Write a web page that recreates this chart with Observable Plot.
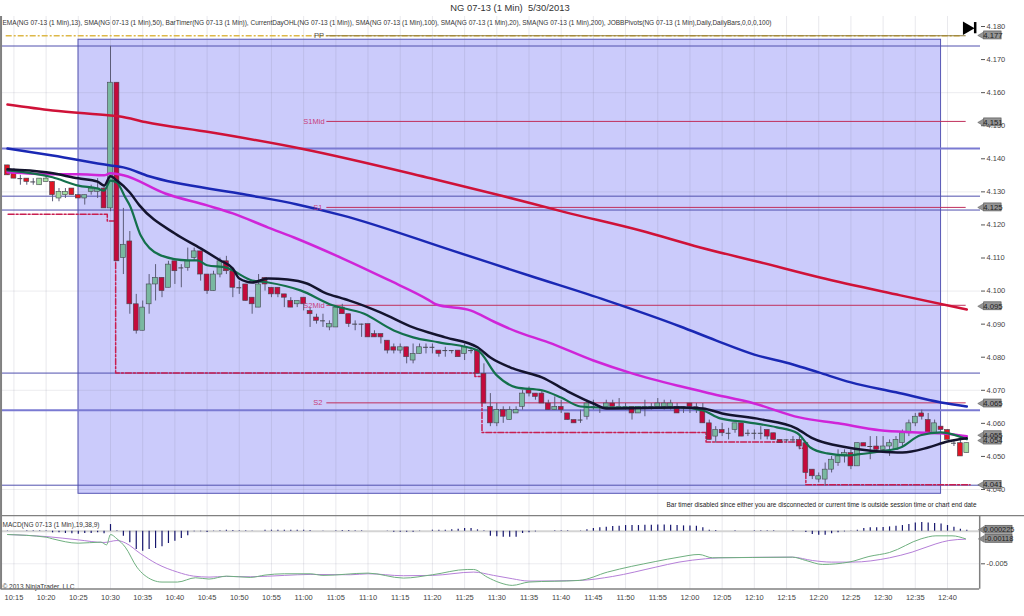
<!DOCTYPE html>
<html><head><meta charset="utf-8">
<script src="https://cdn.jsdelivr.net/npm/d3@7"></script>
<script src="https://cdn.jsdelivr.net/npm/@observablehq/plot@0.6"></script>
<style>
html,body{margin:0;padding:0;background:#fff;width:1024px;height:616px;overflow:hidden;font-family:"Liberation Sans",Arial,sans-serif}
#title{position:absolute;left:0;top:0;width:1020px;height:16px;text-align:center;font-size:9.4px;line-height:15px;color:#333;white-space:pre}
#main{position:absolute;left:0;top:16px}
#macd{position:absolute;left:0;top:515px}
svg{display:block}
</style></head><body>
<div id="title">NG 07-13 (1 Min)  5/30/2013</div>
<div id="main"></div><div id="macd"></div>
<script>
// minutes relative to 10:30
const open=[4.138,4.136,4.134,4.134,4.133,4.132,4.133,4.133,4.128,4.129,4.131,4.129,4.128,4.130,4.130,4.131,4.125,4.163,4.110,4.115,4.096,4.088,4.096,4.102,4.104,4.101,4.109,4.107,4.107,4.110,4.112,4.105,4.100,4.105,4.109,4.106,4.101,4.102,4.098,4.095,4.104,4.101,4.101,4.099,4.097,4.096,4.098,4.094,4.092,4.091,4.089,4.089,4.095,4.093,4.090,4.090,4.090,4.087,4.087,4.085,4.083,4.082,4.083,4.079,4.081,4.083,4.083,4.082,4.082,4.082,4.082,4.081,4.082,4.082,4.075,4.065,4.060,4.064,4.061,4.063,4.065,4.070,4.069,4.069,4.066,4.064,4.065,4.063,4.061,4.061,4.062,4.065,4.065,4.065,4.066,4.065,4.065,4.065,4.063,4.065,4.065,4.065,4.065,4.065,4.065,4.065,4.066,4.065,4.064,4.060,4.056,4.058,4.057,4.058,4.060,4.057,4.057,4.057,4.058,4.057,4.055,4.055,4.055,4.055,4.054,4.046,4.043,4.043,4.046,4.048,4.050,4.051,4.047,4.054,4.053,4.053,4.052,4.053,4.052,4.054,4.057,4.060,4.063,4.061,4.057,4.059,4.058,4.054,4.054,4.051];
const high=[4.138,4.137,4.135,4.134,4.134,4.134,4.135,4.133,4.131,4.131,4.131,4.129,4.129,4.132,4.134,4.132,4.174,4.163,4.125,4.118,4.099,4.097,4.105,4.108,4.104,4.109,4.109,4.108,4.113,4.113,4.112,4.105,4.106,4.110,4.1105,4.106,4.103,4.102,4.098,4.105,4.104,4.101,4.101,4.099,4.098,4.097,4.098,4.095,4.093,4.093,4.091,4.095,4.096,4.093,4.091,4.090,4.090,4.088,4.087,4.085,4.084,4.084,4.083,4.084,4.084,4.084,4.084,4.082,4.083,4.082,4.082,4.084,4.083,4.082,4.078,4.069,4.066,4.065,4.065,4.065,4.070,4.071,4.069,4.070,4.067,4.068,4.067,4.063,4.061,4.064,4.067,4.067,4.065,4.067,4.067,4.0675,4.066,4.065,4.065,4.067,4.066,4.0675,4.067,4.067,4.066,4.065,4.066,4.066,4.066,4.061,4.059,4.060,4.0585,4.060,4.060,4.058,4.058,4.059,4.058,4.057,4.055,4.055,4.056,4.056,4.054,4.046,4.045,4.048,4.050,4.052,4.052,4.052,4.054,4.054,4.056,4.056,4.056,4.055,4.056,4.058,4.061,4.063,4.064,4.063,4.061,4.059,4.058,4.055,4.055,4.054];
const low=[4.135,4.134,4.132,4.132,4.132,4.132,4.133,4.127,4.127,4.128,4.129,4.128,4.126,4.129,4.128,4.125,4.124,4.109,4.105,4.093,4.087,4.088,4.093,4.097,4.098,4.101,4.102,4.101,4.106,4.109,4.103,4.099,4.100,4.104,4.105,4.098,4.099,4.097,4.093,4.095,4.100,4.098,4.098,4.095,4.095,4.095,4.094,4.089,4.090,4.089,4.088,4.089,4.093,4.089,4.088,4.086,4.086,4.086,4.084,4.081,4.081,4.081,4.078,4.078,4.081,4.081,4.081,4.080,4.080,4.081,4.080,4.079,4.081,4.075,4.066,4.059,4.059,4.060,4.061,4.063,4.064,4.068,4.067,4.066,4.064,4.064,4.063,4.061,4.060,4.060,4.061,4.064,4.063,4.065,4.065,4.065,4.064,4.061,4.063,4.062,4.064,4.065,4.064,4.064,4.063,4.063,4.063,4.063,4.060,4.055,4.054,4.056,4.055,4.057,4.056,4.056,4.055,4.055,4.055,4.055,4.054,4.054,4.054,4.052,4.045,4.043,4.042,4.041,4.045,4.047,4.048,4.046,4.047,4.053,4.049,4.051,4.051,4.050,4.052,4.053,4.056,4.059,4.061,4.057,4.057,4.058,4.055,4.053,4.050,4.051];
const close=[4.135,4.134,4.134,4.133,4.133,4.134,4.134,4.129,4.130,4.130,4.129,4.128,4.129,4.131,4.131,4.125,4.163,4.109,4.114,4.096,4.088,4.095,4.102,4.104,4.100,4.108,4.106,4.107,4.109,4.112,4.105,4.100,4.105,4.109,4.106,4.101,4.101,4.097,4.096,4.102,4.102,4.099,4.099,4.098,4.095,4.097,4.096,4.093,4.091,4.091,4.090,4.095,4.093,4.090,4.090,4.090,4.086,4.086,4.086,4.082,4.082,4.083,4.080,4.081,4.083,4.083,4.083,4.081,4.082,4.082,4.080,4.083,4.082,4.075,4.066,4.060,4.064,4.062,4.064,4.064,4.069,4.069,4.068,4.066,4.064,4.065,4.064,4.061,4.060,4.061,4.066,4.065,4.065,4.066,4.065,4.065,4.065,4.063,4.065,4.065,4.065,4.066,4.066,4.066,4.063,4.065,4.065,4.065,4.060,4.055,4.058,4.057,4.057,4.060,4.056,4.057,4.057,4.057,4.056,4.055,4.054,4.055,4.055,4.053,4.045,4.044,4.044,4.046,4.049,4.050,4.051,4.047,4.054,4.053,4.053,4.052,4.053,4.054,4.055,4.057,4.060,4.062,4.062,4.057,4.060,4.058,4.055,4.054,4.050,4.054];
const barMinute=d3.range(-16,134);

const sma200Min=[-16,-9,0,1.5,5.4,15.5,29.5,49.7,60.6,70.7,82.3,91.6,100.9,110.2,122.7,133];
const sma200=[4.1564,4.1546,4.1531,4.1528,4.1511,4.1480,4.1431,4.1341,4.1289,4.1238,4.1183,4.1132,4.1087,4.1041,4.0987,4.0944];
const sma100Min=[-16,-9,0,2,6,20,29,36,53,65,77,88.5,94,100,106,110,115,122,129,133];
const sma100=[4.1431,4.1410,4.1380,4.1374,4.1347,4.1295,4.1262,4.1229,4.1123,4.1047,4.0972,4.0893,4.0851,4.0808,4.0778,4.0754,4.0724,4.0694,4.0663,4.0651];
const sma50Min=[-16,-9,-5,-1,0,2,8.5,15,19,24.5,28.5,36,43,49.5,50.5,56,59.5,63,68,75,81,88.5,93,100,107,113,119.5,124.5,129,133];
const sma50=[4.1359,4.1353,4.1353,4.1350,4.1356,4.1350,4.1295,4.1259,4.1235,4.1192,4.1162,4.1099,4.1035,4.0972,4.0960,4.0941,4.0908,4.0878,4.0845,4.0790,4.0751,4.0712,4.0691,4.0660,4.0618,4.0600,4.0579,4.0573,4.0570,4.0561];
const sma20Min=[-16,-10,-5,-2,-1,0,1,3,4.5,10,14,17,19,20,22,24.5,27.5,30.5,33.5,36,37,42,47,52,57,59,62.5,67,71,75,77,88.5,92,95,101,106.5,109,114.5,119.5,123,127,130,133];
const sma20=[4.1368,4.1359,4.1341,4.1331,4.1319,4.1347,4.1334,4.1298,4.1259,4.1174,4.1129,4.1093,4.1068,4.1038,4.1026,4.1038,4.1035,4.1023,4.0993,4.0978,4.0972,4.0935,4.0890,4.0860,4.0830,4.0799,4.0766,4.0739,4.0697,4.0660,4.0645,4.0648,4.0645,4.0630,4.0612,4.0585,4.0555,4.0527,4.0515,4.0512,4.0527,4.0545,4.0555];
const ema13Min=[-16,-9,-5,-2,-1,0,1,2.3,3,4.7,7.8,12,13.5,15,18,19,22,24.5,29.5,34.5,39.3,44,47,51,57,60,63,67,70,73,76,88.5,92,94.7,99,103.5,106.7,108.7,111.3,114.5,116,119.5,122.7,125.8,129,133];
const ema13=[4.1365,4.1344,4.1319,4.1310,4.1304,4.1334,4.1328,4.1283,4.1259,4.1168,4.1108,4.1093,4.1093,4.1078,4.1071,4.1062,4.1032,4.1026,4.1002,4.0957,4.0932,4.0881,4.0860,4.0845,4.0821,4.0745,4.0709,4.0700,4.0678,4.0651,4.0648,4.0648,4.0639,4.0615,4.0603,4.0588,4.0570,4.0527,4.0509,4.0503,4.0506,4.0515,4.0527,4.0564,4.0573,4.0552];
const dayLowMin=[-15.9,-0.5,0.8,56.6,57.7,92.5,107,108,133.5];
const dayLow=[4.1232,4.1212,4.0752,4.0742,4.0572,4.0544,4.0525,4.0414,4.0414];

const pivotNames=["S1Mid","S1","S2Mid","S2"];
const pivotValues=[4.1513,4.1253,4.0957,4.0662];
const pivotLabelMin=[31.6,32.2,31.6,32.2];
const ppValue=4.1772;
const blueThin=[4.1741,4.1287,4.1245,4.0752,4.0413];
const blueThick=[4.1431,4.0640];
const shadeMin=[-4.97,129];
const shadePrice=[4.176,4.0387];
const priceTicks=[4.18,4.17,4.16,4.15,4.14,4.13,4.12,4.11,4.10,4.09,4.08,4.07,4.06,4.05,4.04];
const faintPrice=[4.16,4.13,4.10,4.07,4.04];
const timeTicks=d3.range(-15,131,5);
const timeLabels=["10:15","10:20","10:25","10:30","10:35","10:40","10:45","10:50","10:55","11:00","11:05","11:10","11:15","11:20","11:25","11:30","11:35","11:40","11:45","11:50","11:55","12:00","12:05","12:10","12:15","12:20","12:25","12:30","12:35","12:40"];
const tagLabels=["4.177","4.151","4.125","4.095","4.065","4.055","4.054","4.041"];
const tagPrice=[4.1773,4.1510,4.1253,4.0954,4.0660,4.0564,4.0548,4.0414];

const macdHist=[1,0,0,1,1,1,1,-5,-5,-7,-8,-9,-7,-7,-5,-8,20,1,-15,-35,-55,-60,-55,-52,-47,-37,-30,-22,-14,-2,-2,-4,-1,1,3,2,1,1,-1,0,3,3,3,3,3,3,3,2,0,-1,0,1,2,2,1,1,0,0,0,-1,-3,-3,-3,-3,-1,0,3,3,3,4,6,8,8,4,1,-15,-17,-18,-18,-18,-7,-5,-2,0,0,1,1,1,0,1,4,8,10,12,14,15,17,17,17,18,18,19,19,18,17,16,16,15,10,3,2,0,0,1,0,0,1,1,1,1,0,0,1,0,-4,-10,-12,-12,-8,-5,-2,-1,3,8,10,10,11,13,15,17,20,25,26,25,23,22,17,12,6,3].map(v=>v*0.000051);
const macdMin=[-16,-10,-9,-5,-1.5,-0.6,0,1,2.3,4.1,5.2,8,10.4,13.2,15.3,18,21.7,24,27,31,33,40,45.5,50,55.4,56.4,58.5,60.5,62.4,65,72.8,77.2,84.7,88.3,91.4,93.5,105.9,108,110.6,114.7,117.8,121,125.9,128.2,130.7,132.8];
const macdLine=[-.00051,-.00092,-.00117,-.00184,-.00168,-.00209,-.00051,-.00117,-.00245,-.00551,-.00668,-.0078,-.0078,-.00714,-.00734,-.00689,-.00709,-.00673,-.00653,-.00653,-.00678,-.00643,-.00719,-.00668,-.00587,-.00587,-.00704,-.00791,-.00831,-.0078,-.00755,-.00627,-.00464,-.00398,-.00357,-.00408,-.00398,-.00449,-.0051,-.00474,-.00388,-.00326,-.00117,-.00071,-.00071,-.00117];
const signalMin=[-16,-10,-5,-1,1,2.3,4.7,7.2,10.4,12.9,15.3,18,21.7,27,31,37.3,40,45.5,50,56.4,59.5,62.4,65,72.8,78,84.7,88.3,92.4,94.5,105.9,109,112,115.2,121,124.5,128.2,130.2,132.8];
const signalLine=[-.00051,-.00082,-.00133,-.00173,-.00143,-.00179,-.00347,-.005,-.00627,-.00689,-.00704,-.00694,-.00699,-.00678,-.00663,-.00668,-.00653,-.00683,-.00678,-.00627,-.00678,-.00729,-.00765,-.00755,-.00694,-.00551,-.00474,-.00423,-.00408,-.00398,-.00449,-.00474,-.00474,-.00408,-.00321,-.00194,-.00143,-.00122];
const macdTagLabels=["0.000225","-0.00118"];
const macdTagValues=[0.000225,-0.00118];

const zip=(xs,ys)=>xs.map((t,i)=>({t,v:ys[i]}));
const bars=barMinute.map((t,i)=>({t,o:open[i],h:high[i],l:low[i],c:close[i]}));
const inside=t=>t>=shadeMin[0]&&t<=shadeMin[1];
const bodyFill=d=>d.c>=d.o?(inside(d.t)?"#79b8a0":"#a3dda0"):(inside(d.t)?"#c40a3c":"#e01424");
const font="Liberation Sans";
const xScale={domain:[0,130],range:[110,947],axis:null};
const legendText="EMA(NG 07-13 (1 Min),13), SMA(NG 07-13 (1 Min),50), BarTimer(NG 07-13 (1 Min)), CurrentDayOHL(NG 07-13 (1 Min)), SMA(NG 07-13 (1 Min),100), SMA(NG 07-13 (1 Min),20), SMA(NG 07-13 (1 Min),200), JOBBPivots(NG 07-13 (1 Min),Daily,DailyBars,0,0,0,100)";
const timerText="Bar timer disabled since either you are disconnected or current time is outside session time or chart end date";
const maLine=(xs,ys,stroke,w)=>Plot.line(zip(xs,ys),{x:"t",y:"v",stroke:()=>stroke,strokeWidth:w,curve:"monotone-x"});

const main=Plot.plot({
  width:1024,height:499,marginTop:0,marginBottom:0,marginLeft:0,marginRight:44,
  style:{background:"transparent",fontFamily:font,fontSize:"8px",color:"#333"},
  x:xScale,
  y:{domain:[4.18,4.04],range:[10,473],axis:null},
  marks:[
    Plot.rect([0],{x1:()=>shadeMin[0],x2:()=>shadeMin[1],y1:()=>shadePrice[0],y2:()=>shadePrice[1],fill:"#cbcbfb",stroke:"#5555b5",strokeWidth:1}),
    Plot.ruleX(timeTicks,{x:d=>d,stroke:"#787890",strokeOpacity:.16,strokeWidth:1}),
    Plot.ruleY(faintPrice,{y:d=>d,stroke:"#787890",strokeOpacity:.14,strokeWidth:1}),
    Plot.ruleY(blueThick,{y:d=>d,stroke:"#7a7ad2",strokeWidth:2}),
    Plot.ruleY(blueThin,{y:d=>d,stroke:"#5050ae",strokeWidth:1}),
    Plot.ruleY(pivotValues,{y:d=>d,x1:()=>33.6,x2:()=>132.9,stroke:"#c0305c",strokeWidth:1}),
    Plot.ruleY([ppValue],{y:d=>d,x1:()=>-16.2,x2:()=>132,stroke:"#ddb848",strokeWidth:1.6,strokeDasharray:"6 2 2 2"}),
    Plot.ruleY([ppValue],{y:d=>d,x1:()=>33.6,x2:()=>132.9,stroke:"#8c7a3c",strokeWidth:1}),
    Plot.line(zip(dayLowMin,dayLow),{x:"t",y:"v",curve:"step-after",stroke:"#c81e50",strokeWidth:1.5,strokeDasharray:"6 2 2 2"}),
    Plot.ruleX(bars,{x:"t",y1:"l",y2:"h",stroke:"#5c5c78",strokeWidth:1}),
    Plot.rect(bars,{x1:d=>d.t-.38,x2:d=>d.t+.38,y1:"o",y2:"c",fill:bodyFill,stroke:"#45454f",strokeWidth:.6}),
    Plot.ruleY(bars.filter(d=>d.o===d.c),{y:"c",x1:d=>d.t-.38,x2:d=>d.t+.38,stroke:"#45454f",strokeWidth:1}),
    maLine(sma200Min,sma200,"#cf1238",2.5),
    maLine(sma100Min,sma100,"#1a28b4",2.5),
    maLine(sma50Min,sma50,"#cf25d8",2.5),
    maLine(ema13Min,ema13,"#14704c",2.2),
    maLine(sma20Min,sma20,"#14142e",2.5),
    Plot.text(pivotNames,{x:pivotLabelMin,y:pivotValues,text:d=>d,fill:"#c8407c",fontSize:7.5}),
    Plot.text(["PP"],{x:[32.4],y:[ppValue],text:d=>d,fill:"#555",fontSize:7.5}),
    Plot.text([legendText],{frameAnchor:"top-left",dx:2,dy:3,text:d=>d,fontSize:7.4,fill:"#333",className:"legendline"}),
    Plot.text([timerText],{frameAnchor:"bottom-right",dx:-4,dy:-9,text:d=>d,fontSize:7,fill:"#222",textAnchor:"end",className:"timerline"}),
    Plot.axisY(priceTicks,{anchor:"right",tickSize:4,tickPadding:2,tickFormat:d=>d.toFixed(3),label:null,fontSize:7.5,stroke:"#555",fill:"#444"}),
    Plot.rect(tagPrice,{x1:()=>135.7,x2:()=>138.4,y1:d=>d+.0012,y2:d=>d-.0012,fill:"#969696",stroke:"#555",strokeWidth:.7}),
    Plot.dot(tagPrice,{x:()=>135.3,y:d=>d,symbol:"triangle",rotate:-90,r:2.5,fill:"#969696",stroke:"#555",strokeWidth:.5}),
    Plot.text(tagLabels,{x:()=>137.05,y:(d,i)=>tagPrice[i],text:d=>d,fontSize:7.8,fill:"#222"}),
    Plot.dot([0],{x:()=>133,y:()=>4.1795,symbol:"triangle",rotate:90,r:5,fill:"#000"}),
    Plot.ruleX([134.3],{x:d=>d,y1:()=>4.1812,y2:()=>4.1778,stroke:"#000",strokeWidth:2.5}),
    Plot.ruleX([-17],{x:d=>d,stroke:"#808080",strokeWidth:2}),
    Plot.ruleY([4.1836],{y:d=>d,x1:()=>-17,x2:()=>142,stroke:"#808080",strokeWidth:1.5})
  ]
});
document.getElementById("main").append(main);
// The reference's text is squeezed horizontally: fit these lines to the widths it shows
d3.select(main).selectAll(".legendline text").attr("textLength",769).attr("lengthAdjust","spacingAndGlyphs");
d3.select(main).selectAll(".timerline text").attr("textLength",310).attr("lengthAdjust","spacingAndGlyphs");

const macd=Plot.plot({
  width:1024,height:101,marginTop:0,marginBottom:27,marginLeft:0,marginRight:44,
  style:{background:"transparent",fontFamily:font,fontSize:"8px",color:"#333"},
  x:xScale,
  y:{domain:[0,-0.005],range:[15.7,48.3],axis:null},
  marks:[
    Plot.ruleX(timeTicks,{x:d=>d,stroke:"#787890",strokeOpacity:.16,strokeWidth:1}),
    Plot.ruleY([0],{y:d=>d,x1:()=>-17,x2:()=>135,stroke:"#d4d4d4",strokeWidth:2}),
    Plot.ruleY([-0.005],{y:d=>d,x1:()=>-17,x2:()=>135,stroke:"#787890",strokeOpacity:.14}),
    Plot.ruleX(zip(barMinute,macdHist),{x:"t",y1:()=>0,y2:"v",stroke:"#16166e",strokeWidth:1.2}),
    Plot.line(zip(signalMin,signalLine),{x:"t",y:"v",stroke:"#b57fd8",strokeWidth:1,curve:"monotone-x"}),
    Plot.line(zip(macdMin,macdLine),{x:"t",y:"v",stroke:"#6fb07f",strokeWidth:1,curve:"monotone-x"}),
    Plot.text(["MACD(NG 07-13 (1 Min),19,38,9)"],{frameAnchor:"top-left",dx:2,dy:6,text:d=>d,fontSize:7.6,fill:"#333",className:"macdline"}),
    Plot.text(["© 2013 NinjaTrader, LLC"],{frameAnchor:"bottom-left",dx:2,dy:-1,text:d=>d,fontSize:7.2,fill:"#333",className:"copyline"}),
    Plot.axisY([-0.005],{anchor:"right",tickSize:4,tickPadding:2,tickFormat:d=>d.toFixed(3),label:null,fontSize:7.5,stroke:"#555",fill:"#444"}),
    Plot.axisX(timeTicks,{anchor:"bottom",tickSize:0,tickPadding:5,tickFormat:d=>timeLabels[timeTicks.indexOf(d)],label:null,fontSize:7.5,fill:"#444"}),
    Plot.rect(macdTagValues,{x1:()=>135.9,x2:()=>140.1,y1:d=>d+.0006,y2:d=>d-.0006,fill:"#8e8e8e",stroke:"#555",strokeWidth:.7}),
    Plot.dot(macdTagValues,{x:()=>135.4,y:d=>d,symbol:"triangle",rotate:-90,r:2.5,fill:"#8e8e8e",stroke:"#555",strokeWidth:.5}),
    Plot.text(macdTagLabels,{x:()=>138,y:(d,i)=>macdTagValues[i],text:d=>d,fontSize:7.4,fill:"#222"}),
    Plot.ruleX([-17],{x:d=>d,stroke:"#808080",strokeWidth:2}),
    Plot.ruleX([135],{x:d=>d,y1:()=>0.0024,y2:()=>-0.0089,stroke:"#808080",strokeWidth:1.5}),
    Plot.ruleY([0.0024],{y:d=>d,x1:()=>-17,x2:()=>142,stroke:"#808080",strokeWidth:1.5}),
    Plot.ruleY([-0.00888],{y:d=>d,x1:()=>-17,x2:()=>135,stroke:"#808080",strokeWidth:1.5}),
    Plot.ruleY([-0.0154],{y:d=>d,x1:()=>-17,x2:()=>142,stroke:"#808080",strokeWidth:1.5})
  ]
});
document.getElementById("macd").append(macd);
d3.select(macd).selectAll(".macdline text").attr("textLength",97).attr("lengthAdjust","spacingAndGlyphs");
d3.select(macd).selectAll(".copyline text").attr("textLength",72).attr("lengthAdjust","spacingAndGlyphs");
</script>
</body></html>
